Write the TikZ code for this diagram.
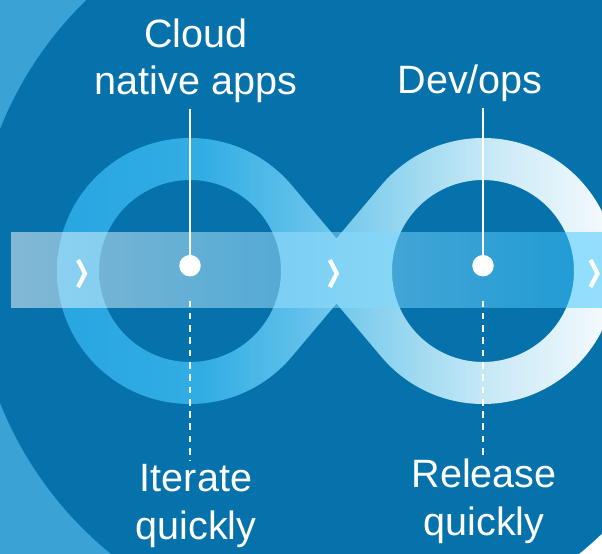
\documentclass[tikz,border=0pt]{standalone}
\usepackage{fontspec}
\setmainfont{Liberation Sans}
\definecolor{deepblue}{RGB}{6,114,172}
\definecolor{paleblue}{RGB}{58,162,212}
\definecolor{bandcyan}{RGB}{54,195,254}
\definecolor{loopA}{RGB}{40,166,225}
\definecolor{loopB}{RGB}{50,173,228}
\definecolor{loopC}{RGB}{95,192,234}
\definecolor{loopD}{RGB}{150,214,240}
\definecolor{loopE}{RGB}{197,232,246}
\definecolor{loopF}{RGB}{242,249,253}
\pgfdeclarehorizontalshading{infinity}{100bp}{color(0bp)=(loopA); color(25bp)=(loopA); color(38bp)=(loopB); color(46.7bp)=(loopC); color(55.7bp)=(loopD); color(63.1bp)=(loopE); color(73.6bp)=(loopF); color(100bp)=(loopF)}
\tikzstyle{tag} = [text=white, align=center, inner sep=3pt, font=\fontsize{22.5}{27.2}\selectfont]
\tikzstyle{hub} = [circle, fill=white, minimum size=0.43cm, inner sep=0pt]
\tikzstyle{lead} = [white, line width=1pt]
\tikzstyle{dashlead} = [white, line width=1pt, dash pattern=on 3.8pt off 3.2pt]
\tikzstyle{chevron} = [white, line width=2.4pt]

\begin{document}
\begin{tikzpicture}[x=0.02cm, y=0.02cm]

\useasboundingbox (0,0) rectangle (602,554);
\clip (0,0) rectangle (602,554);
\fill [paleblue] (0,0) rectangle (602,554);
\fill [white] (540,0) -- (602,0) -- (602,60) -- cycle;
\fill [deepblue] (345,288) circle [radius=371];

\coordinate (L) at (190,283);
\coordinate (R) at (483,283);
\shade [shading=infinity, nonzero rule]
  ([shift={(133,0)}]L) arc [start angle=0, end angle=360, radius=133]
  ([shift={(91,0)}]L) arc [start angle=0, end angle=-360, radius=91]
  ([shift={(133,0)}]R) arc [start angle=0, end angle=360, radius=133]
  ([shift={(91,0)}]R) arc [start angle=0, end angle=-360, radius=91]
  ([shift={(-40.1:91)}]L) -- ([shift={(-40.1:133)}]L) -- ([shift={(139.9:91)}]R) -- ([shift={(139.9:133)}]R) -- cycle
  ([shift={(220.1:133)}]R) -- ([shift={(220.1:91)}]R) -- ([shift={(40.1:133)}]L) -- ([shift={(40.1:91)}]L) -- cycle;

\shade [left color=white, right color=bandcyan, fill opacity=0.5] (11,246) rectangle (602,321);

\foreach \cx in {81.5,333.3,594}
  \draw [chevron] (\cx-3.5,294) -- (\cx+3.5,280.5) -- (\cx-3.5,267);

\node (dotL) [hub] at (190,288.3) {};
\node (dotR) [hub] at (483,288.3) {};
\node (cloud) [tag, above of=dotL, node distance=4.1cm, xshift=0.12cm] {Cloud\\native apps};
\node (devops) [tag, above of=dotR, node distance=3.64cm, xshift=-0.26cm] {Dev/ops};
\node (iterate) [tag, below of=dotL, node distance=4.8cm, xshift=0.12cm] {Iterate\\quickly};
\node (release) [tag, below of=dotR, node distance=4.72cm, xshift=0.02cm] {Release\\quickly};

\draw [lead] (cloud.south -| dotL) -- (dotL);
\draw [lead] (devops.south -| dotR) -- (dotR);
\draw [dashlead, shorten <=13.5pt, shorten >=-1.4pt] (dotL) -- (iterate.north -| dotL);
\draw [dashlead, shorten <=13.5pt, shorten >=-1.4pt] (dotR) -- (release.north -| dotR);

\end{tikzpicture}
\end{document}
